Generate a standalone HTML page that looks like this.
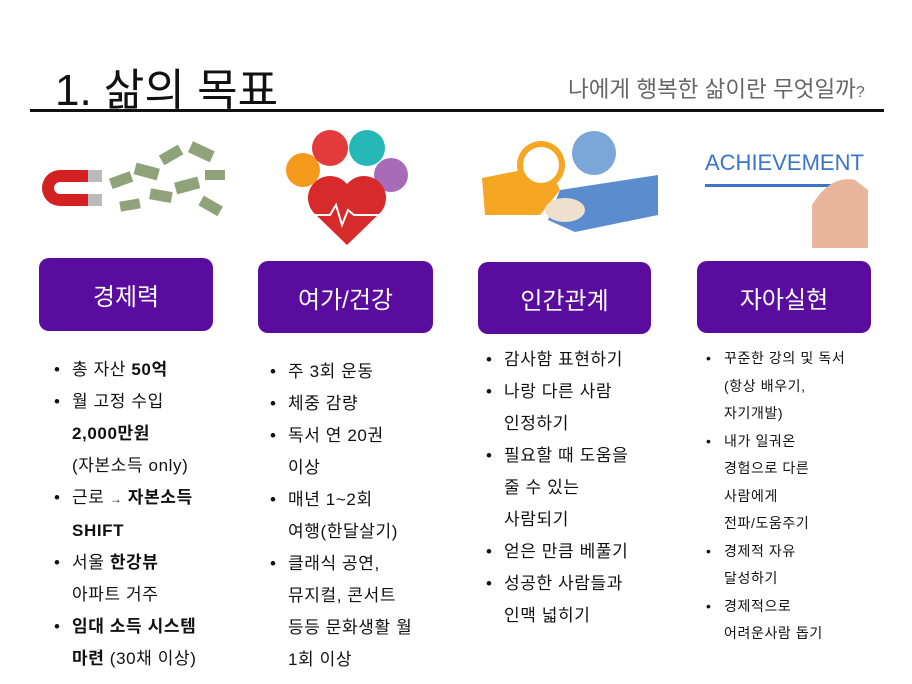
<!DOCTYPE html>
<html><head><meta charset="utf-8"><style>
body{margin:0;width:912px;height:684px;background:#fff;position:relative;overflow:hidden;font-family:"Liberation Sans","Noto Sans CJK KR",sans-serif;color:#111}
.a{position:absolute}
.box{position:absolute;background:#5a0c9e;border-radius:10px;color:#fff;font-size:24px;display:flex;align-items:center;justify-content:center}
.l{position:absolute;white-space:nowrap;letter-spacing:0.6px}
.l div{position:relative}
.l .b::before{content:"•";position:absolute;left:-18px}
</style></head><body>
<div class="a" style="left:55px;top:54px;font-size:44px;">1. 삶의 목표</div>
<div class="a" style="left:568px;top:72px;font-size:22.5px;color:#666">나에게 행복한 삶이란 무엇일까<span style="font-size:16px">?</span></div>
<div class="a" style="left:30px;top:109px;width:854px;height:3px;background:#111"></div>

<svg class="a" style="left:0;top:120px" width="912" height="130">
<path d="M100 50 L60 50 A18 18 0 0 0 60 86 L100 86 L100 74 L60 74 A6 6 0 0 1 60 62 L100 62Z" fill="#d32020"/>
<rect x="88" y="50" width="14" height="12" fill="#bbb"/><rect x="88" y="74" width="14" height="12" fill="#bbb"/>
<g fill="#8fa27a">
<rect x="110" y="55" width="22" height="11" transform="rotate(-20 120 60)"/>
<rect x="135" y="45" width="24" height="12" transform="rotate(15 145 50)"/>
<rect x="160" y="30" width="22" height="11" transform="rotate(-30 170 35)"/>
<rect x="190" y="25" width="24" height="12" transform="rotate(25 200 30)"/>
<rect x="150" y="70" width="22" height="11" transform="rotate(10 160 75)"/>
<rect x="175" y="60" width="24" height="12" transform="rotate(-15 185 65)"/>
<rect x="200" y="80" width="22" height="11" transform="rotate(30 210 85)"/>
<rect x="120" y="80" width="20" height="10" transform="rotate(-10 130 85)"/>
<rect x="205" y="50" width="20" height="10"/>
</g>
<circle cx="303" cy="50" r="17" fill="#f59a1c"/>
<circle cx="330" cy="28" r="18" fill="#e33b3b"/>
<circle cx="367" cy="28" r="18" fill="#26b7b7"/>
<circle cx="391" cy="55" r="17" fill="#a86bb8"/>
<path d="M347 125 L313 92 A20 20 0 0 1 347 64 A20 20 0 0 1 381 92Z" fill="#d72a2a"/>
<polyline points="312,95 330,95 336,85 342,105 348,90 354,95 382,95" fill="none" stroke="#fff" stroke-width="2"/>
<polygon points="482,58 548,45 560,70 540,95 485,95" fill="#f5a623"/>
<polygon points="560,70 658,55 658,95 575,112 548,100" fill="#5a8ccf"/>
<ellipse cx="565" cy="90" rx="20" ry="12" fill="#eee0cc"/>
<circle cx="541" cy="45" r="24" fill="#f5a623"/>
<circle cx="541" cy="45" r="18" fill="#fff"/>
<circle cx="594" cy="33" r="22" fill="#7aa6d8"/>
<text x="705" y="50" font-size="22" fill="#3b74c8" font-family="Liberation Sans">ACHIEVEMENT</text>
<rect x="705" y="64" width="155" height="3" fill="#3b74c8"/>
<path d="M812 128 L812 85 Q830 55 855 60 L868 70 L868 128Z" fill="#e8b49a"/>
</svg>

<div class="box" style="left:39px;top:258px;width:174px;height:73px">경제력</div>
<div class="box" style="left:258px;top:261px;width:175px;height:72px">여가/건강</div>
<div class="box" style="left:478px;top:262px;width:173px;height:72px">인간관계</div>
<div class="box" style="left:697px;top:261px;width:174px;height:72px">자아실현</div>

<div class="l" style="left:72px;top:354px;font-size:17px;line-height:32px">
<div class="b">총 자산 <b>50억</b></div>
<div class="b">월 고정 수입</div>
<div><b>2,000만원</b></div>
<div>(자본소득 only)</div>
<div class="b">근로 <span style="font-size:12px">→</span> <b>자본소득</b></div>
<div><b>SHIFT</b></div>
<div class="b">서울 <b>한강뷰</b></div>
<div>아파트 거주</div>
<div class="b"><b>임대 소득 시스템</b></div>
<div><b>마련</b> (30채 이상)</div>
</div>
<div class="l" style="left:288px;top:356px;font-size:17px;line-height:32px">
<div class="b">주 3회 운동</div>
<div class="b">체중 감량</div>
<div class="b">독서 연 20권</div>
<div>이상</div>
<div class="b">매년 1~2회</div>
<div>여행(한달살기)</div>
<div class="b">클래식 공연,</div>
<div>뮤지컬, 콘서트</div>
<div>등등 문화생활 월</div>
<div>1회 이상</div>
</div>
<div class="l" style="left:504px;top:344px;font-size:17px;line-height:32px">
<div class="b">감사함 표현하기</div>
<div class="b">나랑 다른 사람</div>
<div>인정하기</div>
<div class="b">필요할 때 도움을</div>
<div>줄 수 있는</div>
<div>사람되기</div>
<div class="b">얻은 만큼 베풀기</div>
<div class="b">성공한 사람들과</div>
<div>인맥 넓히기</div>
</div>
<div class="l" style="left:724px;top:345px;font-size:14px;line-height:27.5px">
<div class="b">꾸준한 강의 및 독서</div>
<div>(항상 배우기,</div>
<div>자기개발)</div>
<div class="b">내가 일궈온</div>
<div>경험으로 다른</div>
<div>사람에게</div>
<div>전파/도움주기</div>
<div class="b">경제적 자유</div>
<div>달성하기</div>
<div class="b">경제적으로</div>
<div>어려운사람 돕기</div>
</div>
</body></html>
